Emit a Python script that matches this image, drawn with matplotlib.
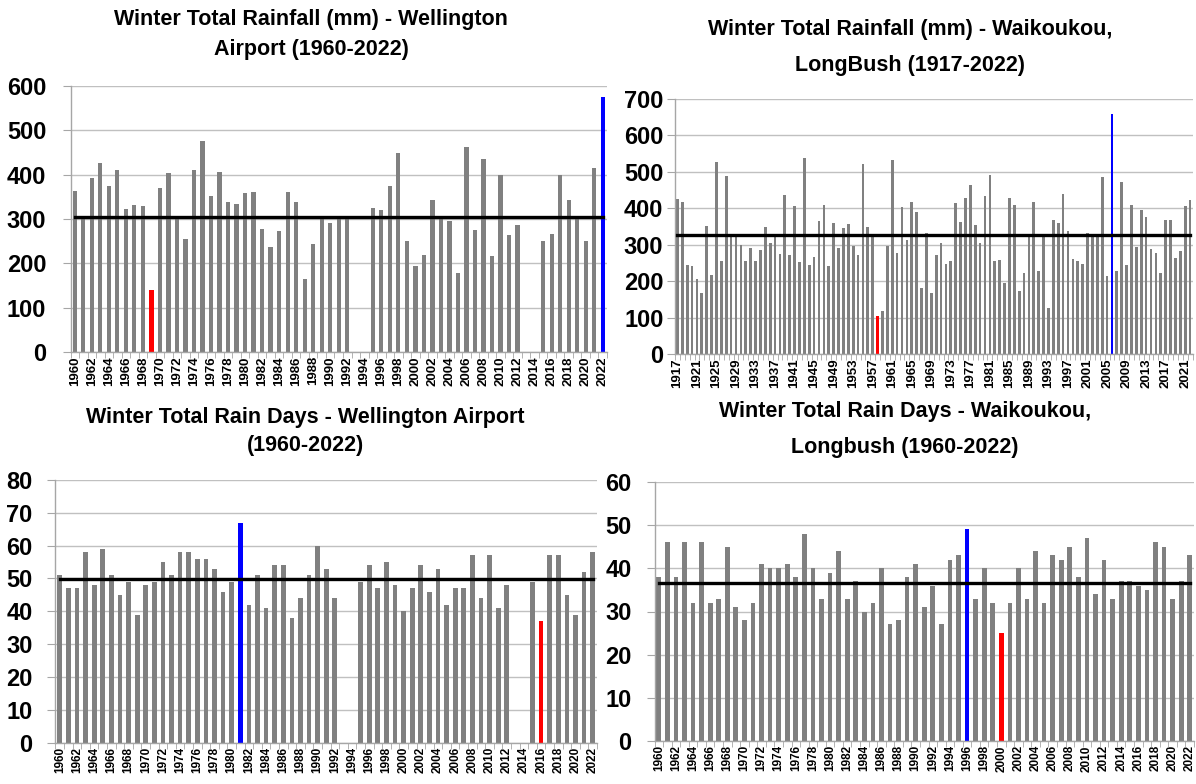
import numpy as np
import matplotlib
matplotlib.use("Agg")
import matplotlib.pyplot as plt

plt.rcParams["font.family"] = ["Liberation Sans", "DejaVu Sans"]
plt.rcParams["font.weight"] = "bold"

nan = np.nan

############### Data ###############
years_60 = list(range(1960, 2023))
years_17 = list(range(1917, 2023))

wlg_rain = [364, 300, 392, 426, 375, 410, 322, 332, 329, 140,
            369, 404, 300, 254, 410, 476, 353, 406, 338, 334,
            358, 362, 278, 236, 274, 360, 339, 164, 244, 300,
            290, 300, 300, nan, nan, 324, 320, 374, 450, 251,
            194, 219, 343, 300, 295, 179, 463, 276, 435, 217,
            400, 263, 287, nan, nan, 250, 266, 400, 343, 300,
            250, 416, 576]
wlg_rain_mean = 305

wai_rain = [425, 418, 244, 241, 205, 167, 350, 218, 528, 254,
            489, 322, 322, 298, 254, 292, 254, 285, 348, 304,
            322, 275, 437, 272, 406, 252, 539, 244, 267, 364,
            409, 242, 360, 290, 345, 357, 297, 272, 521, 348,
            322, 103, 118, 297, 532, 276, 403, 313, 416, 391,
            180, 332, 167, 272, 304, 247, 254, 414, 361, 429,
            465, 355, 304, 434, 492, 254, 257, 194, 427, 408,
            174, 223, 322, 416, 229, 322, 126, 368, 360, 440,
            339, 262, 254, 246, 332, 322, 322, 487, 215, 659,
            229, 471, 243, 408, 295, 395, 375, 288, 277, 223,
            368, 368, 263, 283, 406, 423]
wai_rain_mean = 328

wlg_days = [51, 47, 47, 58, 48, 59, 51, 45, 49, 39,
            48, 49, 55, 51, 58, 58, 56, 56, 53, 46,
            49, 67, 42, 51, 41, 54, 54, 38, 44, 51,
            60, 53, 44, nan, nan, 49, 54, 47, 55, 48,
            40, 47, 54, 46, 53, 42, 47, 47, 57, 44,
            57, 41, 48, nan, nan, 49, 37, 57, 57, 45,
            39, 52, 58]
wlg_days_mean = 49.7

wai_days = [38, 46, 38, 46, 32, 46, 32, 33, 45, 31,
            28, 32, 41, 40, 40, 41, 38, 48, 40, 33,
            39, 44, 33, 37, 30, 32, 40, 27, 28, 38,
            41, 31, 36, 27, 42, 43, 49, 33, 40, 32,
            25, 32, 40, 33, 44, 32, 43, 42, 45, 38,
            47, 34, 42, 33, 37, 37, 36, 35, 46, 45,
            33, 37, 43]
wai_days_mean = 36.7

GREY = "#808080"
GRID = "#c0c0c0"


def bar_panel(rect, years, values, mean, ymax, ystep, label_every,
              low_year, high_year, width, xfont, ypad, xlim_pad=0.5):
    ax = fig.add_axes(rect)
    x = np.arange(len(years))
    colors = []
    for y in years:
        if y == low_year:
            colors.append("#ff0000")
        elif y == high_year:
            colors.append("#0000ff")
        else:
            colors.append(GREY)
    ax.bar(x, values, width=width, color=colors, zorder=2)
    ax.plot([x[0], x[-1]], [mean, mean], color="black", lw=2.4, zorder=3)

    ax.set_xlim(-xlim_pad, len(years) - 1 + xlim_pad)
    ax.set_ylim(0, ymax)
    ax.set_yticks(np.arange(0, ymax + 1, ystep))
    ax.grid(axis="y", color=GRID, lw=1.0, zorder=0)
    ax.set_axisbelow(True)

    ax.set_xticks(x[::label_every])
    ax.set_xticklabels([str(y) for y in years[::label_every]],
                       rotation=90, fontsize=xfont, fontweight="bold")
    ax.set_xticks(np.arange(-0.5, len(years), 1), minor=True)
    ax.tick_params(axis="x", which="major", length=0, pad=3)
    ax.tick_params(axis="x", which="minor", length=4, color="#a6a6a6")
    ax.tick_params(axis="y", length=6, color="#a6a6a6", labelsize=17, pad=ypad)
    for lab in ax.get_yticklabels():
        lab.set_fontweight("bold")

    for s in ["top", "right"]:
        ax.spines[s].set_visible(False)
    for s in ["left", "bottom"]:
        ax.spines[s].set_color("#a6a6a6")
        ax.spines[s].set_linewidth(1.0)
    return ax


def title(cx, y1, y2, line1, line2):
    kw = dict(ha="center", va="center", fontsize=15.5, fontweight="bold")
    fig.text(cx / W, 1 - y1 / H, line1, **kw)
    fig.text(cx / W, 1 - y2 / H, line2, **kw)


W, H = 1196.0, 784.0
fig = plt.figure(figsize=(11.96, 7.84), dpi=100)


def rect(l, t, r, b):
    return [l / W, 1 - b / H, (r - l) / W, (b - t) / H]


# top left: Wellington Airport rainfall
bar_panel(rect(70.5, 86, 607, 352), years_60, wlg_rain, wlg_rain_mean,
          600, 100, 2, 1969, 2022, 0.5, 9.5, 11.5)
title(311, 20, 50, "Winter Total Rainfall (mm) - Wellington", "Airport (1960-2022)")

# top right: Waikoukou rainfall
bar_panel(rect(674.5, 99, 1193, 354), years_17, wai_rain, wai_rain_mean,
          700, 100, 4, 1958, 2006, 0.55, 9.5, 2, xlim_pad=0.6)
title(910, 30, 65, "Winter Total Rainfall (mm) - Waikoukou,", "LongBush (1917-2022)")

# bottom left: Wellington Airport rain days
bar_panel(rect(55.5, 480, 597, 742.5), years_60, wlg_days, wlg_days_mean,
          80, 10, 2, 2016, 1981, 0.55, 8.5, 10.5)
title(305, 417, 446, "Winter Total Rain Days - Wellington Airport", "(1960-2022)")

# bottom right: Waikoukou rain days
bar_panel(rect(654.5, 482, 1194, 741), years_60, wai_days, wai_days_mean,
          60, 10, 2, 2000, 1996, 0.55, 8.5, 10.5)
title(905, 412, 448, "Winter Total Rain Days - Waikoukou,", "Longbush (1960-2022)")

fig.savefig("out.png", dpi=100)
